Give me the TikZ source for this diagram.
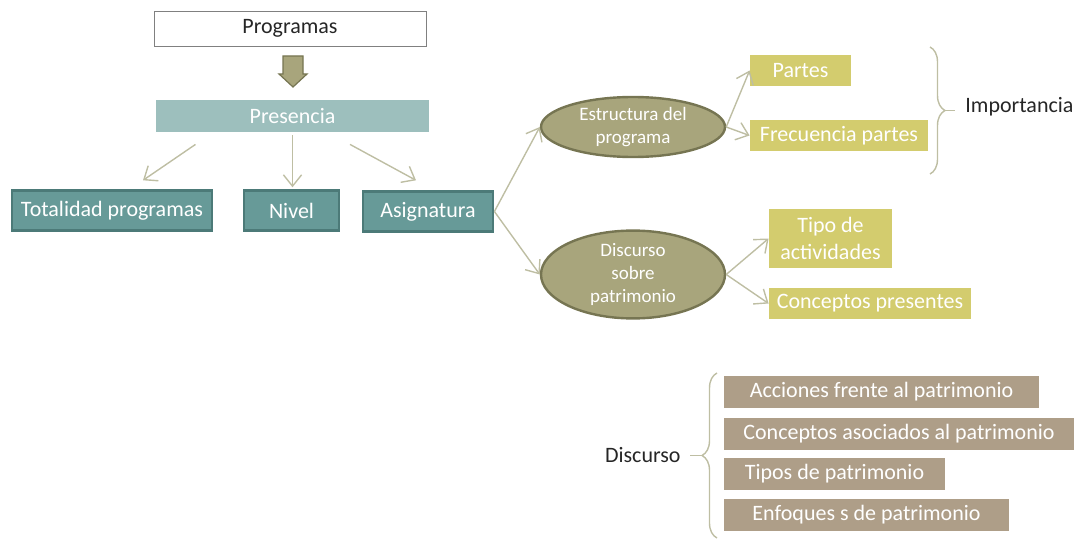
\documentclass[tikz,border=0pt]{standalone}
\usepackage{fontspec}
\setmainfont{Carlito}
\usepackage{tikz}
\usetikzlibrary{positioning,arrows.meta,shapes.geometric,decorations.pathreplacing,calc}
\definecolor{linkgray}{RGB}{190,190,163}
\definecolor{boxrule}{RGB}{128,128,128}
\definecolor{inkgray}{RGB}{38,38,38}
\definecolor{softteal}{RGB}{157,191,189}
\definecolor{tealfill}{RGB}{103,154,152}
\definecolor{tealrule}{RGB}{76,122,120}
\definecolor{olivefill}{RGB}{168,165,124}
\definecolor{oliverule}{RGB}{118,117,82}
\definecolor{mustard}{RGB}{211,204,110}
\definecolor{taupe}{RGB}{174,158,136}
\tikzset{
  topbox/.style={rectangle,draw=boxrule,fill=white,text=inkgray,minimum width=136pt,minimum height=17.5pt,inner sep=0pt},
  headbar/.style={rectangle,fill=softteal,text=white,minimum width=136.5pt,minimum height=16pt,inner sep=0pt},
  level/.style={rectangle,draw=tealrule,line width=1.4pt,fill=tealfill,text=white,minimum height=19.8pt,inner sep=0pt},
  aspect/.style={ellipse,draw=oliverule,line width=1.2pt,fill=olivefill,text=white,align=center,inner sep=0pt,minimum width=92pt,font=\fontsize{9.5}{11.5}\selectfont},
  item/.style={rectangle,fill=mustard,text=white,minimum height=15.5pt,inner sep=0pt,align=center},
  theme/.style={rectangle,fill=taupe,text=white,minimum height=16pt,inner sep=0pt},
  plain/.style={text=inkgray,inner sep=0pt},
  bigarrow/.style={draw=oliverule,fill=olivefill,line width=0.6pt,line join=miter},
  link/.style={draw=linkgray,line width=0.7pt,-{Straight Barb[length=2mm,width=3.2mm]}},
  curly/.style={draw=linkgray,line width=0.7pt,decorate,decoration={brace,amplitude=7.5pt}}
}
\begin{document}
\begin{tikzpicture}[x=0.5pt,y=-0.5pt,font=\fontsize{11}{13}\selectfont]
  \useasboundingbox (0,0) rectangle (1086,540);
  \node[topbox] (prog) at (290,28.5) {Programas};
  \node[headbar] (pres) at (292.5,116) {Presencia};
  \node[level,minimum width=100pt] (tot) at (112,210.5) {Totalidad programas};
  \node[level,minimum width=47.5pt] (niv) at (291.5,210.5) {Nivel};
  \node[level,minimum width=65pt] (asig) at (428,211.5) {Asignatura};
  \node[aspect,minimum height=30pt] (est) at (633,127) {Estructura del\\programa};
  \node[aspect,minimum height=42pt] (dsc) at (633,274.5) {Discurso\\sobre\\patrimonio};
  \node[item,minimum width=50.5pt] (partes) at (800.5,70.5) {Partes};
  \node[item,minimum width=89pt] (frec) at (839,135.5) {Frecuencia partes};
  \node[item,minimum width=61.5pt,minimum height=29.5pt,font=\fontsize{11}{13.5}\selectfont] (tipo) at (830.5,238.5) {Tipo de\\actividades};
  \node[item,minimum width=101pt] (concp) at (870,303.5) {Conceptos presentes};
  \node[plain,anchor=west] (imp) at (965,107) {Importancia};
  \node[theme,minimum width=157.5pt] (acc) at (881.5,392) {Acciones frente al patrimonio};
  \node[theme,minimum width=175pt] (asoc) at (899,434) {Conceptos asociados al patrimonio};
  \node[theme,minimum width=110.5pt] (tipos) at (834.5,474) {Tipos de patrimonio};
  \node[theme,minimum width=142.5pt] (enf) at (866.5,515) {Enfoques s de patrimonio};
  \node[plain,anchor=east] (dlabel) at (681,455) {Discurso};
  \coordinate (itop) at (930,47);
  \coordinate (ibot) at (930,174);
  \coordinate (dtop) at (717,373);
  \coordinate (dbot) at (717,538);
  \coordinate (down) at (293,56);
  \draw[bigarrow] (down) ++(-10,0) -- ++(20,0) -- ++(0,18) -- ++(4,0) -- ++(-14,13) -- ++(-14,-13) -- ++(4,0) -- cycle;
  \draw[link] ($(pres.south)+(-97,12)$) -- ($(tot.north)+(31,-9)$);
  \draw[link,shorten <=1.5pt,shorten >=1pt] (pres.south) -- (pres.south |- niv.north);
  \draw[link] ($(pres.south)+(57.5,12)$) -- ($(asig.north)+(-12,-10)$);
  \draw[link] (asig.east) -- (est.west);
  \draw[link] (asig.east) -- (dsc.west);
  \draw[link] (est.east) -- (partes.west);
  \draw[link] (est.east) -- (frec.west);
  \draw[link] (dsc.east) -- (tipo.west);
  \draw[link] (dsc.east) -- (concp.west);
  \draw[curly] (itop) -- (ibot);
  \draw[draw=linkgray,line width=0.7pt] ($(itop)!0.5!(ibot)+(15,0)$) -- ($(itop)!0.5!(ibot)+(25,0)$);
  \draw[curly] (dbot) -- (dtop);
  \draw[draw=linkgray,line width=0.7pt] ($(dtop)!0.5!(dbot)+(-15,0)$) -- ($(dtop)!0.5!(dbot)+(-27,0)$);
\end{tikzpicture}
\end{document}
